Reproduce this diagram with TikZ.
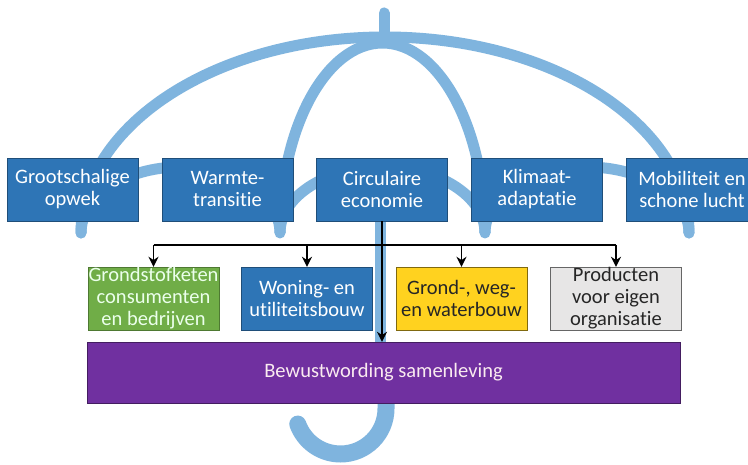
\documentclass[tikz,border=0pt]{standalone}
\usepackage{fontspec}
\setmainfont{Carlito}[Ligatures=NoCommon]
\usetikzlibrary{arrows.meta}
\definecolor{ribblue}{HTML}{7FB4DE}
\definecolor{boxblue}{HTML}{2E75B6}
\definecolor{boxblueline}{HTML}{1F4E79}
\definecolor{boxgreen}{HTML}{70AD47}
\definecolor{boxyellow}{HTML}{FFD21F}
\definecolor{boxgray}{HTML}{E7E6E6}
\definecolor{boxpurple}{HTML}{7030A0}
\tikzset{
	rib/.style={line width=11pt, color=ribblue, line cap=round},
	thema/.style={draw=boxblueline, fill=boxblue, text=white, minimum width=131pt, minimum height=63pt, inner sep=0pt, align=center, font=\fontsize{20.5}{22}\selectfont},
	sector/.style={thema, minimum width=131pt},
	arr/.style={line width=1.6pt, -{Stealth[length=10pt,width=10pt]}}
}

\begin{document}
\begin{tikzpicture}[x=1pt, y=1pt]
			%%%%% START %%%%%
			
			\useasboundingbox (0, 0) rectangle (748, 465);
			\clip (0, 0) rectangle (748, 465);
			\fill[white] (0, 0) rectangle (748, 465);
			
			% umbrella
			\draw[rib] (384, 452) -- (384, 428);
			\draw[rib] (81, 232) arc[start angle=180, end angle=0, x radius=304, y radius=196];
			\draw[rib] (280, 232) arc[start angle=180, end angle=0, x radius=102.5, y radius=190];
			\draw[rib] (81, 232) arc[start angle=180, end angle=0, x radius=99.5, y radius=66]
				arc[start angle=180, end angle=0, x radius=102.5, y radius=66]
				arc[start angle=180, end angle=0, x radius=102, y radius=66];
			\draw[rib, line cap=butt] (380.5, 260) -- (380.5, 62);
			\draw[rib, line width=17pt] (386, 62) -- (386, 56.5) arc[start angle=0, end angle=-160, radius=45.5];
			
			% themes
			\node[thema] (gw) at (72.5, 275.5) {Grootschalige\\opwek};
			\node[thema] (wt) at (227.5, 275.5) {Warmte-\\transitie};
			\node[thema] (ce) at (382, 275.5) {Circulaire\\economie};
			\node[thema] (ka) at (537, 275.5) {Klimaat-\\adaptatie};
			\node[thema] (ms) at (692, 275.5) {Mobiliteit en\\schone lucht};
			
			% sectors
			\node[sector, fill=boxgreen, draw=boxgreen!70!black, text=white!92!green] (gk) at (153.5, 166.5) {Grondstofketen\\consumenten\\en bedrijven};
			\node[sector] (wu) at (307, 166.5) {Woning- en\\utiliteitsbouw};
			\node[sector, fill=boxyellow, draw=boxyellow!50!black, text=black!85] (gww) at (461.5, 166.5) {Grond-, weg-\\en waterbouw};
			\node[sector, fill=boxgray, draw=black!60, text=black!85] (pe) at (616, 166.5) {Producten\\voor eigen\\organisatie};
			
			\node[thema, fill=boxpurple, draw=boxpurple!60!black, text=white!92!purple, minimum width=593pt, minimum height=61pt] (bs) at (383.5, 92.5) {Bewustwording samenleving};
			
			% connectors
			\coordinate (split) at (ce.south |- 0, 220);
			\draw[line width=1.6pt] (gk.north |- split) -- (pe.north |- split);
			\draw[arr] (ce.south) -- (ce.south |- bs.north);
			\draw[arr] (gk.north |- split) -- (gk.north);
			\draw[arr] (wu.north |- split) -- (wu.north);
			\draw[arr] (gww.north |- split) -- (gww.north);
			\draw[arr] (pe.north |- split) -- (pe.north);
			
			%%%%% END %%%%%
\end{tikzpicture}
\end{document}
